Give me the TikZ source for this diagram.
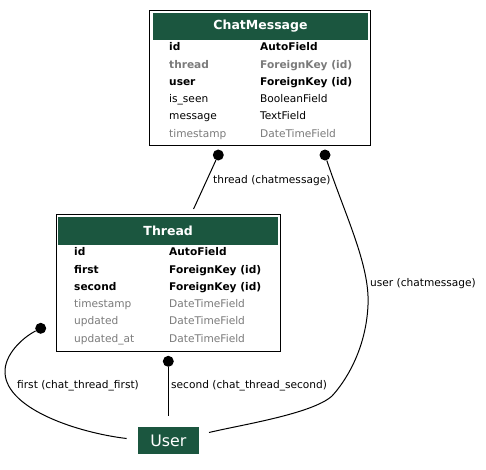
\documentclass[tikz,border=0pt]{standalone}
\usepackage{fontspec}
\setmainfont{DejaVu Sans}
\usepackage{xcolor}
\definecolor{modelgreen}{HTML}{1B563F}
\definecolor{fieldgray}{RGB}{123,123,123}
\newcommand{\rowsize}{\fontsize{10.6}{12}\selectfont}
\newcommand{\titlesize}{\fontsize{12.5}{14}\selectfont}

\begin{document}
\begin{tikzpicture}[x=1pt,y=-1pt,
    tablebox/.style={rectangle,draw=black,line width=1pt,fill=white,inner sep=0pt},
    tablehead/.style={rectangle,fill=modelgreen,inner sep=0pt,text=white,
      font=\titlesize\bfseries},
    keyfield/.style={anchor=base west,inner sep=0pt,font=\rowsize\bfseries,text=black},
    mutedkey/.style={anchor=base west,inner sep=0pt,font=\rowsize\bfseries,text=fieldgray},
    plainfield/.style={anchor=base west,inner sep=0pt,font=\rowsize,text=black},
    mutedfield/.style={anchor=base west,inner sep=0pt,font=\rowsize,text=fieldgray},
    usermodel/.style={rectangle,fill=modelgreen,text=white,inner sep=0pt,
      minimum width=61pt,minimum height=27.5pt,font=\fontsize{15.8}{18}\selectfont},
    fkdot/.style={circle,fill=black,inner sep=0pt,minimum size=11pt},
    relline/.style={line width=1pt,draw=black},
    rellabel/.style={anchor=base west,inner sep=0pt,font=\rowsize}
  ]
    \useasboundingbox (0,0) rectangle (486,469);

    % ChatMessage table
    \node[tablebox,minimum width=221pt,minimum height=135.5pt] (chatmessage) at (260,77.75) {};
    \node[tablehead,minimum width=215pt,minimum height=27pt] (chatmessagehead) at (260.5,26.5) {ChatMessage};
    \node[keyfield] (cmidname) at (169,50.7) {id};
    \node[keyfield] (cmidtype) at (260,50.7) {AutoField};
    \node[mutedkey] (cmthreadname) at (169,68) {thread};
    \node[mutedkey] (cmthreadtype) at (260,68) {ForeignKey (id)};
    \node[keyfield] (cmusername) at (169,85.2) {user};
    \node[keyfield] (cmusertype) at (260,85.2) {ForeignKey (id)};
    \node[plainfield] (cmseenname) at (169,102.5) {is\_seen};
    \node[plainfield] (cmseentype) at (260,102.5) {BooleanField};
    \node[plainfield] (cmmessagename) at (169,119.7) {message};
    \node[plainfield] (cmmessagetype) at (260,119.7) {TextField};
    \node[mutedfield] (cmstampname) at (169,137) {timestamp};
    \node[mutedfield] (cmstamptype) at (260,137) {DateTimeField};

    % Thread table
    \node[tablebox,minimum width=224pt,minimum height=137pt] (thread) at (168,282.5) {};
    \node[tablehead,minimum width=219.5pt,minimum height=27.5pt] (threadhead) at (168.2,231.2) {Thread};
    \node[keyfield] (thidname) at (74,255.7) {id};
    \node[keyfield] (thidtype) at (169,255.7) {AutoField};
    \node[keyfield] (thfirstname) at (74,273) {first};
    \node[keyfield] (thfirsttype) at (169,273) {ForeignKey (id)};
    \node[keyfield] (thsecondname) at (74,290.3) {second};
    \node[keyfield] (thsecondtype) at (169,290.3) {ForeignKey (id)};
    \node[mutedfield] (thstampname) at (74,307.5) {timestamp};
    \node[mutedfield] (thstamptype) at (169,307.5) {DateTimeField};
    \node[mutedfield] (thupdatedname) at (74,324.7) {updated};
    \node[mutedfield] (thupdatedtype) at (169,324.7) {DateTimeField};
    \node[mutedfield] (thupdatedatname) at (74,342) {updated\_at};
    \node[mutedfield] (thupdatedattype) at (169,342) {DateTimeField};

    % User model
    \node[usermodel] (user) at (168.3,440.5) {User};

    % foreign key ends
    \node[fkdot] (cmthreaddot) at (218.3,155) {};
    \node[fkdot] (cmuserdot) at (325,155) {};
    \node[fkdot] (thfirstdot) at (40.7,328.3) {};
    \node[fkdot] (thseconddot) at (168.3,361.3) {};

    \draw[relline,shorten >=5pt] (cmthreaddot) -- ([xshift=23.5pt]thread.north);
    \draw[relline] (cmuserdot) .. controls (345,215) and (370,265) .. (368,305)
      .. controls (366,350) and (345,382) .. (332,396)
      .. controls (312,414) and (240,425) .. ([shift={(10,-8)}]user.east);
    \draw[relline] (thfirstdot) .. controls (22,338) and (4,355) .. (5,373)
      .. controls (7,410) and (80,433) .. ([shift={(-11,-2)}]user.west);
    \draw[relline] (thseconddot) -- ([yshift=11pt]user.north);

    \node[rellabel] (threadlabel) at (213,183.5) {thread (chatmessage)};
    \node[rellabel] (userlabel) at (370,286.3) {user (chatmessage)};
    \node[rellabel] (firstlabel) at (17,388.3) {first (chat\_thread\_first)};
    \node[rellabel] (secondlabel) at (171,388.3) {second (chat\_thread\_second)};
  \end{tikzpicture}
\end{document}
